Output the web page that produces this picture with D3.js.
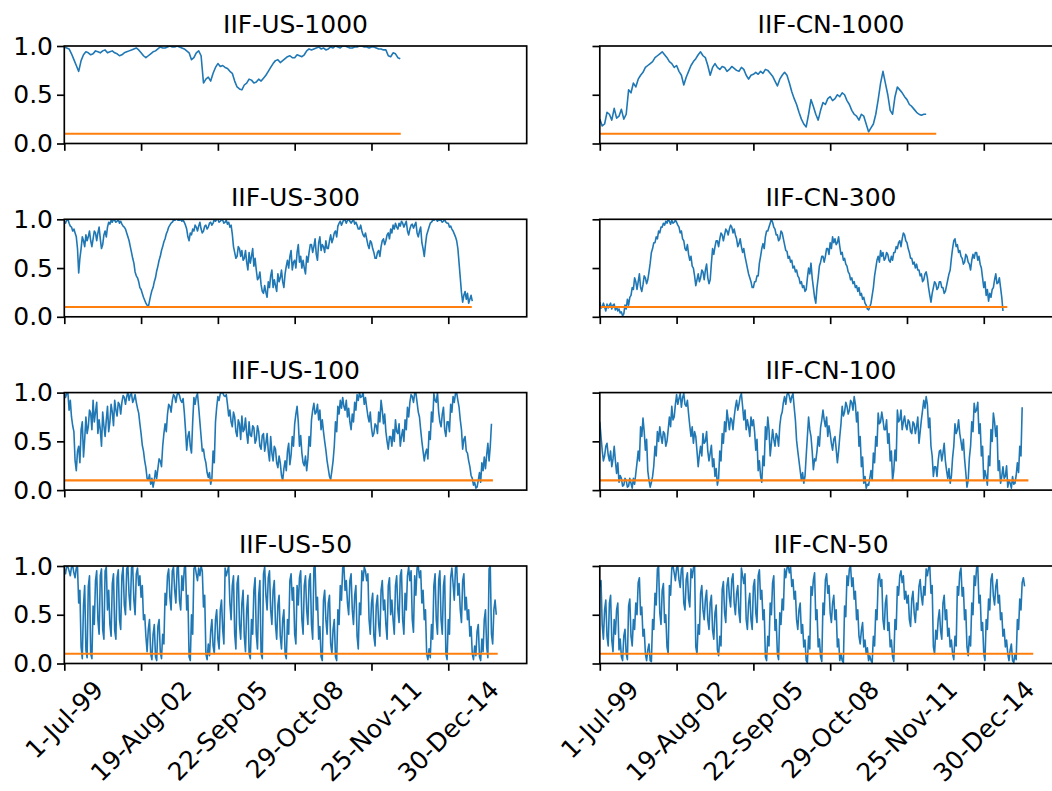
<!doctype html>
<html lang="en">
<head>
  <meta charset="utf-8">
  <script src="https://cdn.jsdelivr.net/npm/d3@7/dist/d3.min.js"></script>
  <title>IIF rolling windows</title>
  <style>
    body { margin: 0; background: #fff; }
    text { font-family: "DejaVu Sans", sans-serif; fill: #000; }
  </style>
</head>
<body>
  <div id="chart"></div>
  <script>
    // x axis is the observation index; ticks every 800 observations
    const tickIndex = [0, 800, 1600, 2400, 3200, 4000];
    const tickDates = ["1-Jul-99", "19-Aug-02", "22-Sep-05", "29-Oct-08", "25-Nov-11", "30-Dec-14"];
    const windows = [1000, 300, 100, 50];
    const countries = ["US", "CN"];
    const threshold = 0.1;
    const thresholdLen = [3505, 4245, 4465, 4515];
    const sampleStep = [25, 12.5, 12.5, 12.5];   // observations between stored values, per window

    const us1000 = [0.99,0.98,0.97,0.92,0.86,0.80,0.74,0.85,0.91,0.94,0.93,0.91,0.92,0.95,0.94,0.93,0.95,0.96,0.93,0.94,
      0.95,0.93,0.92,0.90,0.91,0.93,0.94,0.95,0.96,0.97,0.98,0.96,0.93,0.90,0.88,0.90,0.92,0.94,0.95,0.97,
      0.99,0.98,0.98,0.99,1.0,0.99,0.99,1.0,0.99,0.98,0.97,0.95,0.93,0.86,0.88,0.93,0.95,0.90,0.62,0.66,
      0.68,0.64,0.72,0.78,0.82,0.79,0.80,0.78,0.77,0.74,0.72,0.64,0.58,0.56,0.55,0.60,0.62,0.66,0.65,0.62,
      0.63,0.66,0.64,0.67,0.70,0.74,0.78,0.82,0.85,0.86,0.83,0.85,0.87,0.89,0.90,0.88,0.88,0.91,0.90,0.89,
      0.91,0.95,0.97,0.96,0.97,0.98,0.99,0.97,0.98,0.96,0.97,0.99,0.98,1.0,0.99,0.98,1.0,1.0,0.99,0.98,
      0.98,0.99,0.99,1.0,1.0,0.99,0.99,0.98,0.99,0.99,0.98,0.97,0.97,0.96,0.96,0.90,0.89,0.93,0.92,0.88,
      0.87];
    const cn1000 = [0.25,0.18,0.20,0.32,0.30,0.24,0.36,0.26,0.28,0.35,0.25,0.30,0.55,0.52,0.62,0.58,0.66,0.70,0.73,0.78,
      0.80,0.82,0.84,0.88,0.90,0.92,0.94,0.91,0.88,0.84,0.82,0.78,0.80,0.74,0.70,0.60,0.68,0.74,0.80,0.84,
      0.87,0.91,0.94,0.90,0.88,0.80,0.70,0.78,0.82,0.78,0.76,0.79,0.78,0.74,0.76,0.79,0.77,0.75,0.74,0.78,
      0.76,0.70,0.66,0.70,0.71,0.73,0.71,0.74,0.72,0.76,0.75,0.72,0.69,0.64,0.59,0.66,0.70,0.73,0.70,0.62,
      0.53,0.46,0.40,0.32,0.25,0.20,0.17,0.30,0.45,0.38,0.30,0.24,0.34,0.42,0.40,0.46,0.48,0.44,0.46,0.50,
      0.48,0.52,0.50,0.44,0.40,0.34,0.30,0.28,0.24,0.30,0.28,0.20,0.12,0.16,0.20,0.30,0.45,0.62,0.74,0.62,
      0.50,0.34,0.30,0.48,0.58,0.55,0.52,0.48,0.45,0.40,0.38,0.35,0.32,0.30,0.29,0.30,0.30];
    const us300 = [0.98,0.96,0.99,1.0,0.96,0.93,0.92,0.88,0.90,0.86,0.82,0.70,0.45,0.60,0.70,0.82,0.78,0.72,0.84,0.78,
      0.82,0.88,0.78,0.72,0.80,0.88,0.86,0.78,0.86,0.92,0.80,0.70,0.74,0.84,0.88,0.82,0.92,0.97,0.95,0.99,
      0.97,1.0,0.99,0.97,0.98,1.0,0.96,0.98,0.95,0.93,0.92,0.90,0.86,0.82,0.78,0.72,0.66,0.60,0.55,0.46,
      0.42,0.40,0.36,0.30,0.28,0.24,0.20,0.17,0.14,0.12,0.10,0.16,0.22,0.27,0.30,0.36,0.40,0.47,0.52,0.58,
      0.62,0.68,0.72,0.77,0.80,0.85,0.88,0.92,0.94,0.96,0.97,0.99,0.99,1.0,1.0,0.99,0.99,1.0,0.98,0.99,
      0.97,0.94,0.90,0.82,0.78,0.86,0.84,0.90,0.88,0.94,0.92,0.88,0.93,0.97,0.90,0.86,0.88,0.93,0.94,0.90,
      0.92,0.96,0.97,0.94,0.96,1.0,0.98,1.0,1.0,0.97,0.98,1.0,0.99,0.96,0.97,0.99,0.95,0.97,0.92,0.94,
      0.85,0.72,0.66,0.60,0.62,0.72,0.70,0.62,0.68,0.58,0.60,0.68,0.56,0.48,0.66,0.55,0.62,0.70,0.52,0.60,
      0.48,0.38,0.40,0.46,0.33,0.26,0.24,0.32,0.25,0.20,0.36,0.30,0.42,0.48,0.30,0.38,0.32,0.26,0.44,0.36,
      0.40,0.48,0.36,0.30,0.44,0.52,0.58,0.50,0.62,0.68,0.48,0.56,0.58,0.50,0.66,0.74,0.56,0.62,0.50,0.58,
      0.50,0.44,0.62,0.56,0.66,0.74,0.74,0.66,0.72,0.80,0.64,0.58,0.76,0.82,0.68,0.74,0.72,0.66,0.78,0.70,
      0.70,0.78,0.84,0.76,0.80,0.86,0.88,0.82,0.93,0.96,0.98,0.94,0.97,1.0,0.99,0.96,0.99,1.0,0.98,0.96,
      0.98,1.0,0.95,0.97,0.94,0.90,0.90,0.94,0.88,0.84,0.82,0.86,0.80,0.74,0.70,0.78,0.76,0.70,0.66,0.60,
      0.60,0.66,0.68,0.62,0.72,0.78,0.80,0.74,0.78,0.84,0.86,0.80,0.90,0.86,0.94,0.90,0.96,0.92,0.90,0.96,
      0.93,0.98,0.96,0.92,0.95,0.98,0.88,0.84,0.90,0.94,0.95,0.91,0.94,0.97,0.86,0.82,0.88,0.92,0.76,0.70,
      0.62,0.74,0.84,0.88,0.92,0.96,0.97,0.99,0.99,1.0,1.0,0.98,1.0,0.99,0.99,0.97,0.98,1.0,0.97,0.96,
      0.96,0.92,0.93,0.90,0.88,0.85,0.82,0.78,0.70,0.55,0.40,0.25,0.15,0.22,0.26,0.18,0.24,0.14,0.18,0.22,
      0.16];
    const cn300 = [0.15,0.09,0.10,0.14,0.10,0.06,0.13,0.09,0.12,0.14,0.08,0.12,0.13,0.07,0.10,0.06,0.08,0.04,0.05,0.01,
      0.03,0.12,0.08,0.18,0.12,0.20,0.22,0.30,0.28,0.40,0.36,0.28,0.36,0.44,0.30,0.26,0.33,0.42,0.40,0.34,
      0.38,0.46,0.55,0.66,0.70,0.76,0.76,0.82,0.80,0.88,0.86,0.92,0.92,0.96,0.94,0.98,0.96,1.0,0.98,0.95,
      0.99,0.96,0.97,0.99,0.97,0.94,0.92,0.86,0.88,0.80,0.78,0.70,0.68,0.74,0.64,0.58,0.62,0.52,0.50,0.42,
      0.32,0.38,0.44,0.36,0.40,0.48,0.46,0.38,0.48,0.54,0.40,0.34,0.38,0.55,0.70,0.64,0.72,0.78,0.78,0.72,
      0.80,0.86,0.84,0.78,0.84,0.90,0.88,0.84,0.90,0.94,0.92,0.86,0.90,0.84,0.80,0.72,0.75,0.80,0.72,0.66,
      0.70,0.62,0.56,0.50,0.44,0.40,0.36,0.30,0.30,0.36,0.36,0.42,0.42,0.55,0.62,0.70,0.75,0.70,0.82,0.88,
      0.88,0.92,0.96,1.0,0.97,0.92,0.90,0.84,0.84,0.78,0.80,0.88,0.86,0.80,0.74,0.68,0.67,0.60,0.62,0.56,
      0.58,0.50,0.52,0.46,0.48,0.42,0.40,0.34,0.36,0.30,0.32,0.26,0.28,0.40,0.50,0.44,0.55,0.40,0.30,0.20,
      0.14,0.30,0.40,0.52,0.56,0.62,0.62,0.56,0.62,0.70,0.70,0.64,0.76,0.70,0.82,0.76,0.80,0.74,0.76,0.82,
      0.72,0.64,0.66,0.58,0.60,0.54,0.52,0.46,0.44,0.38,0.40,0.34,0.36,0.30,0.32,0.26,0.30,0.22,0.24,0.18,
      0.20,0.14,0.12,0.08,0.07,0.10,0.14,0.22,0.30,0.42,0.50,0.58,0.62,0.56,0.68,0.62,0.66,0.58,0.60,0.66,
      0.64,0.58,0.56,0.62,0.58,0.66,0.66,0.72,0.70,0.76,0.78,0.72,0.80,0.86,0.84,0.78,0.76,0.70,0.66,0.60,
      0.60,0.54,0.56,0.50,0.54,0.48,0.48,0.42,0.44,0.36,0.38,0.44,0.46,0.40,0.30,0.22,0.15,0.24,0.30,0.36,
      0.34,0.28,0.30,0.36,0.36,0.30,0.30,0.24,0.26,0.32,0.38,0.44,0.48,0.60,0.70,0.78,0.80,0.72,0.74,0.66,
      0.68,0.62,0.60,0.54,0.56,0.64,0.62,0.56,0.54,0.48,0.58,0.64,0.60,0.66,0.66,0.58,0.62,0.54,0.50,0.40,
      0.30,0.36,0.22,0.28,0.16,0.24,0.20,0.28,0.30,0.38,0.44,0.34,0.35,0.40,0.30,0.20,0.06];
    const us100 = [1.0,0.95,0.99,1.0,0.82,0.92,0.75,0.66,0.60,0.30,0.20,0.40,0.45,0.28,0.62,0.70,0.34,0.52,0.75,0.58,
      0.65,0.82,0.79,0.62,0.92,0.70,0.80,0.90,0.58,0.72,0.62,0.45,0.80,0.66,0.55,0.72,0.86,0.60,0.70,0.88,
      0.80,0.66,0.92,0.82,0.76,0.90,0.88,0.78,0.90,0.97,0.95,0.88,0.96,1.0,0.92,0.98,0.99,0.90,0.93,0.98,
      0.90,0.84,0.79,0.68,0.58,0.46,0.40,0.30,0.23,0.12,0.10,0.16,0.06,0.12,0.03,0.10,0.20,0.12,0.22,0.32,
      0.30,0.24,0.45,0.58,0.68,0.60,0.78,0.88,0.86,0.80,0.92,0.98,0.96,0.90,0.98,1.0,0.97,0.92,0.90,0.94,
      0.80,0.62,0.41,0.55,0.60,0.45,0.38,0.70,0.95,0.88,0.96,0.99,0.85,0.70,0.55,0.40,0.42,0.33,0.28,0.18,
      0.13,0.18,0.06,0.12,0.40,0.28,0.70,0.85,0.96,0.92,0.99,1.0,1.0,0.97,0.96,0.98,0.88,0.76,0.82,0.70,
      0.65,0.80,0.75,0.60,0.55,0.72,0.68,0.52,0.76,0.60,0.62,0.74,0.58,0.48,0.70,0.56,0.55,0.66,0.64,0.48,
      0.52,0.66,0.60,0.45,0.42,0.56,0.58,0.40,0.48,0.58,0.40,0.30,0.55,0.38,0.30,0.45,0.42,0.28,0.23,0.35,
      0.28,0.15,0.10,0.22,0.30,0.20,0.40,0.48,0.26,0.36,0.55,0.45,0.68,0.78,0.86,0.70,0.45,0.56,0.38,0.28,
      0.25,0.35,0.20,0.32,0.55,0.45,0.72,0.82,0.89,0.78,0.80,0.88,0.72,0.82,0.62,0.72,0.60,0.50,0.41,0.30,
      0.22,0.14,0.11,0.20,0.30,0.45,0.70,0.60,0.86,0.78,0.92,0.84,0.95,0.86,0.82,0.92,0.75,0.84,0.70,0.62,
      0.78,0.70,0.90,0.82,0.98,0.92,1.0,0.95,0.96,1.0,0.88,0.95,0.85,0.76,0.70,0.80,0.64,0.55,0.58,0.68,
      0.66,0.58,0.80,0.70,0.92,0.82,0.68,0.78,0.60,0.50,0.42,0.55,0.55,0.45,0.62,0.50,0.72,0.60,0.58,0.68,
      0.45,0.55,0.62,0.50,0.72,0.62,0.85,0.75,0.90,0.98,0.96,0.90,0.99,1.0,0.90,0.80,0.75,0.62,0.50,0.40,
      0.30,0.38,0.42,0.32,0.60,0.52,0.80,0.70,0.99,0.92,0.90,1.0,0.80,0.70,0.65,0.78,0.85,0.62,0.55,0.70,
      0.70,0.60,0.88,0.80,0.96,0.90,0.99,1.0,0.92,0.85,0.72,0.62,0.42,0.52,0.55,0.40,0.38,0.30,0.24,0.15,
      0.12,0.05,0.08,0.02,0.03,0.10,0.18,0.08,0.28,0.20,0.34,0.22,0.36,0.48,0.30,0.45,0.68];
    const cn100 = [0.70,0.55,0.41,0.30,0.35,0.45,0.48,0.36,0.30,0.40,0.24,0.32,0.45,0.30,0.17,0.28,0.08,0.15,0.12,0.04,
      0.05,0.12,0.10,0.03,0.04,0.12,0.07,0.02,0.12,0.06,0.17,0.28,0.40,0.30,0.65,0.55,0.74,0.60,0.41,0.52,
      0.20,0.10,0.03,0.08,0.14,0.25,0.45,0.35,0.60,0.50,0.65,0.55,0.48,0.60,0.58,0.45,0.50,0.62,0.75,0.65,
      0.86,0.72,0.75,0.88,0.98,0.88,0.94,0.99,0.85,0.95,0.99,0.88,0.86,0.92,0.78,0.66,0.55,0.65,0.48,0.60,
      0.55,0.40,0.24,0.36,0.45,0.35,0.58,0.48,0.50,0.60,0.40,0.30,0.38,0.46,0.24,0.32,0.14,0.22,0.05,0.12,
      0.40,0.30,0.58,0.48,0.70,0.60,0.82,0.72,0.62,0.74,0.72,0.62,0.75,0.85,0.92,0.82,0.88,0.96,0.99,0.86,
      0.72,0.82,0.62,0.72,0.65,0.55,0.75,0.66,0.72,0.60,0.41,0.52,0.20,0.30,0.14,0.08,0.35,0.25,0.65,0.52,
      0.75,0.62,0.35,0.48,0.62,0.52,0.45,0.58,0.55,0.45,0.66,0.76,0.80,0.90,0.96,0.88,0.98,1.0,0.96,0.90,
      0.96,0.99,0.85,0.72,0.51,0.40,0.30,0.20,0.10,0.18,0.07,0.14,0.35,0.55,0.75,0.62,0.55,0.40,0.21,0.32,
      0.30,0.40,0.55,0.45,0.64,0.72,0.82,0.72,0.65,0.75,0.55,0.66,0.58,0.48,0.41,0.52,0.55,0.42,0.28,0.40,
      0.55,0.68,0.86,0.76,0.80,0.90,0.86,0.78,0.82,0.92,0.90,0.82,0.96,0.88,0.70,0.80,0.45,0.55,0.24,0.34,
      0.07,0.14,0.02,0.06,0.05,0.12,0.20,0.10,0.38,0.28,0.55,0.45,0.79,0.68,0.70,0.80,0.72,0.62,0.62,0.72,
      0.48,0.58,0.30,0.40,0.10,0.20,0.41,0.30,0.82,0.70,0.72,0.82,0.62,0.70,0.76,0.66,0.62,0.72,0.70,0.60,
      0.58,0.70,0.68,0.58,0.65,0.75,0.48,0.60,0.72,0.82,0.92,0.84,0.96,0.88,0.64,0.74,0.45,0.35,0.14,0.24,
      0.24,0.14,0.30,0.40,0.41,0.30,0.38,0.48,0.30,0.20,0.12,0.22,0.07,0.14,0.33,0.45,0.68,0.58,0.62,0.72,
      0.58,0.50,0.41,0.52,0.32,0.18,0.03,0.10,0.33,0.45,0.70,0.60,0.89,0.80,0.82,0.90,0.58,0.68,0.35,0.45,
      0.10,0.20,0.14,0.05,0.35,0.25,0.62,0.50,0.79,0.70,0.55,0.66,0.20,0.30,0.07,0.14,0.24,0.12,0.14,0.25,
      0.03,0.10,0.07,0.02,0.14,0.06,0.07,0.15,0.28,0.18,0.45,0.35,0.85];
    const us50 = [0.97,0.92,1.0,0.99,0.95,0.90,0.99,1.0,0.93,0.88,0.98,0.99,
      0.62,0.75,0.17,0.05,0.60,0.80,0.14,0.06,0.79,0.90,0.10,0.05,
      0.59,0.40,0.85,0.95,0.45,0.30,0.90,0.97,0.35,0.25,0.95,0.99,0.55,0.75,0.40,0.28,0.82,0.92,0.34,0.25,
      0.88,0.96,0.45,0.35,0.90,0.99,0.60,0.50,0.97,1.0,0.70,0.55,0.98,1.0,0.65,0.50,0.92,0.98,0.80,0.90,0.68,0.80,
      0.45,0.50,0.28,0.12,0.35,0.45,0.10,0.04,0.30,0.40,0.07,0.03,0.38,0.45,0.12,0.05,0.30,0.20,
      0.72,0.60,0.90,0.97,0.68,0.55,0.95,0.99,0.75,0.62,0.98,1.0,0.65,0.55,0.90,0.75,0.98,1.0,0.55,0.70,
      0.07,0.03,0.50,0.30,0.97,1.0,0.92,0.85,0.98,0.90,1.0,0.95,0.58,0.70,
      0.10,0.04,0.20,0.08,0.33,0.45,0.18,0.10,0.45,0.55,0.25,0.15,0.55,0.65,0.35,0.20,
      0.98,0.90,0.95,1.0,0.62,0.45,0.80,0.90,
      0.30,0.15,0.82,0.90,0.40,0.25,0.62,0.75,0.28,0.12,0.55,0.70,0.10,0.05,0.45,0.30,0.75,0.88,0.30,0.15,0.70,0.85,0.10,0.05,
      0.92,0.99,0.70,0.55,0.88,0.95,0.55,0.40,0.75,0.85,0.40,0.25,0.60,0.70,0.28,0.15,0.45,0.55,
      0.10,0.05,
      0.45,0.30,0.85,0.92,0.65,0.78,0.30,0.20,0.80,0.60,0.88,0.95,0.45,0.30,0.80,0.90,0.55,0.40,0.85,0.92,
      0.40,0.25,0.98,1.0,0.55,0.68,0.25,0.38,0.07,0.03,0.65,0.75,0.45,0.30,0.62,0.70,0.20,0.10,0.35,0.45,0.07,0.03,
      0.55,0.40,0.80,0.65,0.98,1.0,0.75,0.85,0.62,0.50,0.85,0.92,0.55,0.40,0.70,0.80,0.28,0.15,0.62,0.50,0.95,0.85,0.99,0.95,
      0.85,0.92,0.45,0.30,0.62,0.72,0.28,0.18,0.60,0.70,0.40,0.28,0.75,0.85,0.55,0.65,0.40,0.25,0.80,0.88,0.50,0.65,0.45,0.30,
      0.80,0.90,0.55,0.42,0.90,0.96,0.45,0.30,0.72,0.55,0.90,0.99,0.85,0.95,0.45,0.32,0.90,0.70,0.98,1.0,0.88,0.95,
      0.62,0.75,0.45,0.55,0.10,0.04,0.15,0.06,0.40,0.25,
      0.80,0.92,0.45,0.30,0.85,0.95,0.45,0.30,0.80,0.90,0.10,0.04,0.45,0.30,
      0.88,0.98,0.82,0.65,0.98,1.0,0.70,0.82,0.55,0.42,0.85,0.92,0.55,0.68,0.45,0.55,
      0.28,0.38,0.10,0.04,0.18,0.08,0.33,0.40,0.07,0.03,0.25,0.12,0.45,0.55,0.17,0.06,
      0.97,1.0,0.30,0.20,0.55,0.65,0.50];
    const cn50 = [0.79,0.85,0.40,0.25,0.55,0.65,0.28,0.18,0.62,0.70,0.24,0.12,0.45,0.30,0.55,0.62,0.14,0.25,0.07,0.03,0.28,0.35,0.10,0.04,
      0.59,0.66,0.28,0.18,0.45,0.35,0.62,0.50,0.83,0.88,0.50,0.58,0.28,0.35,0.10,0.03,0.14,0.20,0.03,0.02,
      0.45,0.35,0.72,0.60,0.97,1.0,0.52,0.40,0.75,0.82,0.42,0.50,0.17,0.10,
      0.80,0.70,0.98,1.0,0.93,0.85,0.98,1.0,0.86,0.78,0.97,0.99,0.62,0.55,0.86,0.93,0.66,0.58,0.97,0.88,0.98,1.0,
      0.17,0.10,0.40,0.30,0.72,0.80,0.55,0.45,0.66,0.75,0.45,0.35,0.62,0.70,0.34,0.25,0.52,0.60,0.14,0.08,0.28,0.18,
      0.76,0.84,0.52,0.42,0.80,0.88,0.68,0.58,0.86,0.92,0.62,0.50,0.72,0.80,0.52,0.42,
      0.98,0.90,0.82,0.92,0.45,0.35,0.62,0.72,0.45,0.35,0.79,0.86,0.52,0.42,0.90,0.96,0.66,0.75,
      0.45,0.55,0.07,0.03,0.28,0.18,0.62,0.50,0.83,0.90,0.34,0.45,0.10,0.04,0.52,0.40,0.66,0.55,
      0.97,0.88,0.98,1.0,0.93,0.99,0.79,0.86,0.66,0.74,
      0.45,0.35,0.55,0.62,0.31,0.40,0.17,0.24,0.03,0.01,0.28,0.15,
      0.79,0.70,0.86,0.93,0.45,0.55,0.17,0.25,0.07,0.02,
      0.62,0.50,0.86,0.92,0.72,0.80,0.52,0.42,0.62,0.70,0.45,0.55,0.17,0.25,0.03,0.10,0.03,0.01,
      0.59,0.48,0.90,0.80,0.97,1.0,0.79,0.88,0.66,0.74,0.45,0.55,
      0.28,0.20,0.34,0.42,0.17,0.24,0.10,0.16,0.03,0.08,0.03,0.01,0.28,0.18,
      0.55,0.45,0.86,0.92,0.79,0.86,0.45,0.35,0.62,0.70,0.34,0.42,0.17,0.24,
      0.07,0.02,0.45,0.35,0.79,0.70,0.90,0.95,0.83,0.90,0.66,0.74,0.62,0.70,
      0.45,0.38,0.66,0.74,0.52,0.42,0.62,0.55,0.79,0.86,0.69,0.60,0.79,0.70,0.97,0.90,0.98,1.0,
      0.72,0.80,0.17,0.10,0.34,0.25,0.45,0.55,0.34,0.25,0.62,0.70,0.45,0.55,0.28,0.36,0.17,0.24,0.10,0.04,0.28,0.18,
      0.79,0.70,0.93,0.98,0.69,0.78,0.45,0.55,0.17,0.08,
      0.28,0.18,0.62,0.50,0.90,0.80,0.98,1.0,0.62,0.70,
      0.34,0.42,0.10,0.03,0.45,0.35,0.66,0.55,0.86,0.92,
      0.69,0.60,0.79,0.86,0.62,0.70,0.45,0.52,0.28,0.35,0.17,0.24,0.10,0.03,0.14,0.20,0.03,0.01,0.10,0.04,
      0.45,0.35,0.66,0.55,0.83,0.88,0.79];

    const series = { US: [us1000, us300, us100, us50], CN: [cn1000, cn300, cn100, cn50] };

    const W = 1052, H = 791;
    const colLeft = [64.3, 599.8];
    const axW = 462.4;
    const rowTop = [46, 219.3, 392.6, 566];
    const axH = 97.5;
    const xMax = 4817;
    const tickLen = 7.3, tickW = 1.67, fsTick = 25, fsTitle = 25;

    const svg = d3.select("#chart").append("svg")
        .attr("width", W)
        .attr("height", H);

    countries.forEach(function(country, c) {
      var x = d3.scaleLinear().domain([0, xMax]).range([colLeft[c], colLeft[c] + axW]);
      windows.forEach(function(win, r) {
        var y = d3.scaleLinear().domain([0, 1]).range([rowTop[r] + axH, rowTop[r]]);
        var data = series[country][r];
        var step = sampleStep[r];
        var g = svg.append("g");

        var clipId = "clip-" + country + "-" + win;
        g.append("clipPath").attr("id", clipId)
          .append("rect")
            .attr("x", colLeft[c]).attr("y", rowTop[r])
            .attr("width", axW).attr("height", axH);

        var plot = g.append("g").attr("clip-path", "url(#" + clipId + ")");
        plot.append("path")
            .datum(data)
            .attr("fill", "none")
            .attr("stroke", "#1f77b4")
            .attr("stroke-width", 1.6)
            .attr("stroke-linejoin", "round")
            .attr("d", d3.line().x(function(d, i) { return x(i * step); }).y(function(d) { return y(d); }));
        plot.append("line")
            .attr("x1", x(0)).attr("x2", x(thresholdLen[r]))
            .attr("y1", y(threshold)).attr("y2", y(threshold))
            .attr("stroke", "#ff7f0e")
            .attr("stroke-width", 2.1);

        // y axis: labels only on the left column
        var yAxis = d3.axisLeft(y).tickValues([0, 0.5, 1]).tickSize(tickLen).tickPadding(4)
            .tickFormat(c === 0 ? d3.format(".1f") : "");
        var ya = g.append("g").attr("transform", "translate(" + colLeft[c] + ",0)").call(yAxis);
        ya.select(".domain").remove();
        ya.selectAll("line").attr("stroke", "#000").attr("stroke-width", tickW);
        ya.selectAll("text").attr("font-size", fsTick).attr("font-family", "DejaVu Sans").attr("fill", "#000");

        // x axis: ticks on every row, date labels only on the bottom row
        var xAxis = d3.axisBottom(x).tickValues(tickIndex).tickSize(tickLen).tickFormat("");
        var xa = g.append("g").attr("transform", "translate(0," + (rowTop[r] + axH) + ")").call(xAxis);
        xa.select(".domain").remove();
        xa.selectAll("line").attr("stroke", "#000").attr("stroke-width", tickW);

        // frame
        g.append("rect")
            .attr("x", colLeft[c]).attr("y", rowTop[r])
            .attr("width", axW).attr("height", axH)
            .attr("fill", "none").attr("stroke", "#000").attr("stroke-width", tickW);

        g.append("text")
            .attr("x", colLeft[c] + axW / 2)
            .attr("y", rowTop[r] - 13.5)
            .attr("text-anchor", "middle")
            .attr("font-size", fsTitle)
            .text("IIF-" + country + "-" + win);

        if (r === windows.length - 1) {
          var top = rowTop[r] + axH + tickLen + 4;
          tickIndex.forEach(function(t, i) {
            var lab = g.append("text")
                .attr("font-size", fsTick)
                .attr("text-anchor", "middle")
                .text(tickDates[i]);
            // rotated label, its bounding box centred on the tick and hanging below it
            var len = lab.node().getComputedTextLength();
            var side = (len + fsTick * 1.164) / Math.SQRT2;
            lab.attr("x", 0).attr("y", fsTick * 0.346)
               .attr("transform", "translate(" + x(t) + "," + (top + side / 2) + ") rotate(-45)");
          });
        }
      });
    });
  </script>
</body>
</html>
